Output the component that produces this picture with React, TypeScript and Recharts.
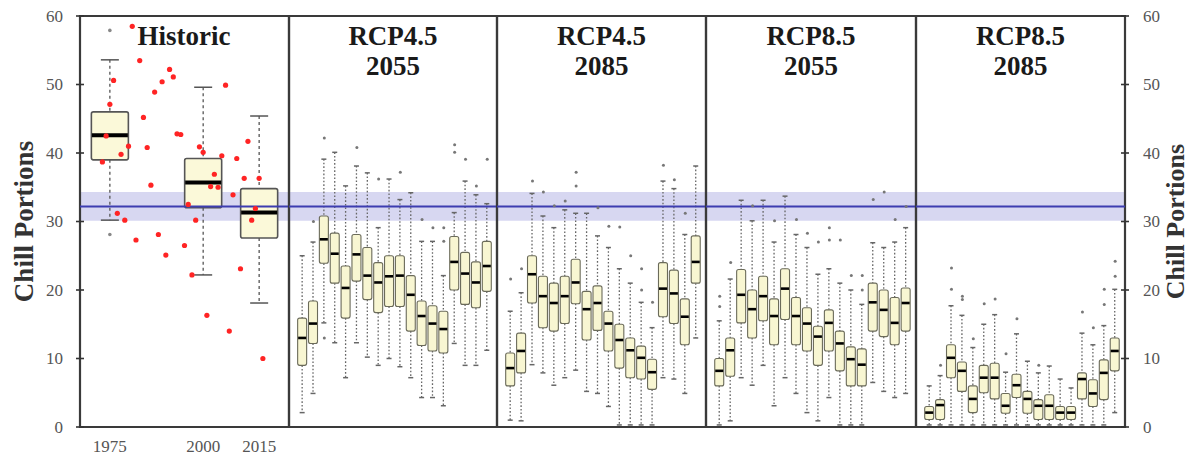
import React from 'react';
import { ComposedChart, Bar, Scatter, XAxis, YAxis, ReferenceArea, ReferenceLine } from 'recharts';

// ---------- Data ----------
const yTicks = [0, 10, 20, 30, 40, 50, 60];
const histTickYears = [1975, 2000, 2015];

// Historic box plots
const histYears = [1975, 2000, 2015];
const histLo = [30.2, 22.2, 18.1];
const histQ1 = [39.0, 32.0, 27.6];
const histMed = [42.6, 35.7, 31.3];
const histQ3 = [46.0, 39.2, 34.8];
const histHi = [53.6, 49.6, 45.4];
const histOutYears = [1975, 1975];
const histOutValues = [57.9, 28.1];

// Observed yearly chill portions (red dots)
const obsYears = [1973, 1974, 1975, 1976, 1977, 1978, 1979, 1980, 1981, 1982, 1983, 1984, 1985, 1986, 1987, 1988, 1989, 1990, 1991, 1992, 1993, 1994, 1995, 1996, 1997, 1998, 1999, 2000, 2001, 2002, 2003, 2004, 2005, 2006, 2007, 2008, 2009, 2010, 2011, 2012, 2013, 2014, 2015, 2016];
const obsValues = [38.7, 42.5, 47.1, 50.6, 31.2, 39.8, 30.2, 41.0, 58.5, 27.3, 53.5, 45.2, 40.8, 35.3, 48.9, 28.1, 50.4, 25.1, 52.2, 51.1, 42.8, 42.7, 26.5, 32.5, 22.2, 30.2, 40.9, 40.1, 16.3, 35.1, 36.9, 35.0, 39.6, 49.9, 14.0, 33.9, 39.2, 23.1, 36.3, 41.7, 30.2, 31.9, 36.3, 10.0];

// Reference band (historic safe-winter chill)
const bandLow = 30.1;
const bandHigh = 34.3;
const bandMid = 32.2;

// Climate model index (18 GCMs)
const gcmIndex = [1, 2, 3, 4, 5, 6, 7, 8, 9, 10, 11, 12, 13, 14, 15, 16, 17, 18];

// RCP4.5 2055
const r45a_lo = [2.1, 4.9, 15.2, 12.3, 7.2, 12.3, 10.2, 9.0, 10.0, 8.8, 7.2, 4.3, 4.3, 3.1, 12.2, 9.0, 9.0, 11.2];
const r45a_q1 = [9.0, 12.2, 23.9, 21.0, 15.9, 21.3, 18.6, 16.7, 17.6, 17.6, 14.0, 11.9, 11.1, 10.8, 20.0, 17.9, 17.4, 19.8];
const r45a_med = [13.0, 15.1, 27.4, 25.3, 20.3, 25.2, 22.1, 21.1, 22.0, 22.1, 19.3, 16.2, 15.1, 14.3, 24.1, 22.4, 21.1, 23.5];
const r45a_q3 = [15.9, 18.4, 30.8, 28.3, 23.5, 28.1, 26.2, 24.0, 25.0, 25.0, 22.1, 18.4, 17.7, 16.9, 27.8, 25.5, 24.1, 27.1];
const r45a_hi = [25.0, 27.0, 39.1, 40.1, 35.2, 38.1, 37.1, 29.1, 36.2, 33.2, 34.2, 27.1, 27.1, 22.1, 31.3, 35.9, 33.9, 32.6];
const r45a_outIdx = [2, 3, 3, 6, 8, 10, 12, 13, 14, 14, 15, 15, 16, 17, 18];
const r45a_outVal = [30.0, 42.2, 13.0, 40.8, 36.2, 37.2, 30.3, 29.1, 29.1, 27.1, 41.2, 40.1, 39.1, 35.2, 39.1];

// RCP4.5 2085
const r45b_lo = [1.0, 0.9, 9.1, 7.9, 6.1, 7.2, 8.3, 5.2, 4.9, 3.0, 0.3, 0.3, 0.3, 0.3, 7.2, 7.0, 4.9, 13.0];
const r45b_q1 = [6.0, 7.9, 18.1, 14.5, 14.0, 15.1, 18.0, 12.7, 14.1, 11.1, 8.6, 7.2, 7.0, 5.5, 16.1, 15.1, 12.0, 21.0];
const r45b_med = [8.6, 11.1, 22.3, 19.1, 18.1, 19.1, 21.1, 17.2, 18.1, 15.1, 12.7, 11.2, 10.1, 8.0, 20.2, 19.5, 16.1, 24.1];
const r45b_q3 = [10.8, 13.7, 25.0, 22.0, 21.0, 22.0, 24.5, 19.8, 20.6, 16.9, 15.0, 13.0, 11.8, 9.9, 24.0, 22.9, 18.7, 27.9];
const r45b_hi = [16.9, 19.6, 34.1, 30.8, 29.1, 31.7, 31.2, 31.2, 27.9, 26.2, 23.1, 21.0, 18.2, 14.5, 35.9, 34.8, 28.1, 38.1];
const r45b_outIdx = [1, 2, 3, 4, 5, 6, 7, 7, 9, 10, 11, 12, 13, 13, 14, 15, 16, 17];
const r45b_outVal = [21.6, 23.1, 35.9, 34.3, 32.3, 33.0, 37.2, 35.2, 32.0, 29.3, 29.2, 25.0, 23.1, 20.0, 18.2, 38.2, 36.1, 31.2];

// RCP8.5 2055
const r85a_lo = [0.3, 0.9, 7.2, 6.1, 9.0, 3.1, 7.2, 4.9, 2.1, 0.9, 4.3, 0.3, 0.3, 0.3, 6.5, 5.2, 4.3, 4.9];
const r85a_q1 = [6.0, 7.4, 15.2, 13.0, 15.5, 12.0, 15.7, 12.0, 11.1, 9.0, 11.1, 8.2, 6.0, 6.0, 14.0, 13.2, 12.0, 14.0];
const r85a_med = [8.2, 11.2, 19.3, 17.2, 19.1, 16.2, 20.2, 16.2, 15.1, 13.2, 15.2, 12.2, 9.9, 9.1, 18.2, 17.1, 15.2, 18.1];
const r85a_q3 = [10.0, 13.0, 23.0, 20.0, 22.0, 18.7, 23.1, 18.9, 17.4, 14.7, 17.1, 14.0, 11.7, 11.4, 21.0, 20.0, 18.9, 20.3];
const r85a_hi = [15.5, 21.6, 33.1, 30.1, 33.1, 27.0, 33.7, 28.1, 26.2, 22.3, 23.1, 21.0, 20.0, 17.9, 26.9, 26.2, 27.0, 29.1];
const r85a_outIdx = [1, 1, 2, 4, 6, 8, 9, 10, 11, 11, 12, 13, 14, 14, 15, 16, 17, 18];
const r85a_outVal = [19.1, 17.6, 24.0, 32.3, 30.1, 30.3, 28.3, 27.0, 29.1, 27.3, 27.3, 22.1, 22.1, 20.0, 33.2, 34.3, 30.3, 32.2];

// RCP8.5 2085
const r85b_lo = [0.3, 0.3, 0.3, 0.3, 0.3, 0.3, 0.3, 0.3, 0.3, 0.3, 0.3, 0.3, 0.3, 0.3, 0.3, 0.3, 0.3, 2.1];
const r85b_q1 = [1.1, 1.1, 7.2, 5.2, 2.1, 5.0, 4.1, 2.0, 4.3, 2.0, 1.1, 1.1, 1.1, 1.1, 4.1, 3.0, 4.0, 8.2];
const r85b_med = [2.1, 3.2, 10.1, 8.2, 4.1, 7.2, 7.2, 3.1, 6.1, 4.1, 3.1, 3.1, 2.1, 2.1, 7.0, 4.9, 7.9, 11.1];
const r85b_q3 = [3.0, 4.0, 12.0, 9.5, 6.0, 9.0, 9.3, 4.9, 7.7, 5.2, 4.0, 4.7, 3.0, 3.0, 7.9, 6.9, 9.8, 13.0];
const r85b_hi = [6.0, 7.5, 17.7, 16.3, 11.6, 15.0, 16.4, 8.0, 13.6, 9.6, 7.9, 8.9, 7.0, 5.7, 13.7, 12.0, 14.8, 20.1];
const r85b_outIdx = [2, 3, 3, 4, 4, 5, 6, 7, 8, 9, 11, 15, 16, 17, 17, 18, 18];
const r85b_outVal = [9.0, 23.2, 20.1, 19.1, 18.6, 12.9, 18.0, 18.7, 10.7, 15.8, 9.0, 16.8, 14.5, 20.1, 17.9, 24.2, 22.0];

// ---------- Helpers ----------
const FONT = "'Liberation Serif', 'Times New Roman', serif";
const TOP = 16;
const PLOT_BOTTOM = 427;
const H = 457;

type Row = { x: number; lo: number; q1: number; med: number; q3: number; hi: number };

const buildRows = (xs: number[], lo: number[], q1: number[], med: number[], q3: number[], hi: number[]): Row[] =>
  xs.map((x, i) => ({ x, lo: lo[i], q1: q1[i], med: med[i], q3: q3[i], hi: hi[i] }));

const buildPoints = (xs: number[], ys: number[]) => xs.map((x, i) => ({ x, y: ys[i] }));

const rangeKey = (d: Row) => [d.lo, d.hi];

const makeBoxShape = (o: { capW: number; medW: number; boxStroke: string; fill: string; dash: string; whiskerColor: string; boxStrokeW: number; rx: number }) =>
  (props: any) => {
    const { x, y, width, height, payload } = props;
    if (payload == null || x == null || y == null) return <g />;
    const { lo, q1, med, q3, hi } = payload as Row;
    const span = hi - lo;
    const py = (v: number) => y + (height * (hi - v)) / span;
    const cx = x + width / 2;
    const yHi = py(hi), yQ3 = py(q3), yMed = py(med), yQ1 = py(q1), yLo = py(lo);
    return (
      <g>
        <line x1={cx} x2={cx} y1={yHi} y2={yQ3} stroke={o.whiskerColor} strokeWidth={1.3} strokeDasharray={o.dash} />
        <line x1={cx} x2={cx} y1={yQ1} y2={yLo} stroke={o.whiskerColor} strokeWidth={1.3} strokeDasharray={o.dash} />
        <line x1={cx - o.capW / 2} x2={cx + o.capW / 2} y1={yHi} y2={yHi} stroke={o.whiskerColor} strokeWidth={1.5} />
        <line x1={cx - o.capW / 2} x2={cx + o.capW / 2} y1={yLo} y2={yLo} stroke={o.whiskerColor} strokeWidth={1.5} />
        <rect x={x + 0.5} y={yQ3} width={width - 1} height={yQ1 - yQ3} fill={o.fill} stroke={o.boxStroke} strokeWidth={o.boxStrokeW} rx={o.rx} />
        <line x1={x + 1} x2={x + width - 1} y1={yMed} y2={yMed} stroke="#000" strokeWidth={o.medW} />
      </g>
    );
  };

const projBoxShape = makeBoxShape({ capW: 5, medW: 2.6, boxStroke: '#6b6b5a', fill: '#f8f6d2', dash: '1.6 2', whiskerColor: '#666', boxStrokeW: 1.1, rx: 2 });
const histBoxShape = makeBoxShape({ capW: 18, medW: 4, boxStroke: '#555', fill: '#fbf9d9', dash: '3 3', whiskerColor: '#555', boxStrokeW: 1.6, rx: 2 });

const grayDot = (props: any) => <circle cx={props.cx} cy={props.cy} r={1.5} fill="#777" />;
const histGrayDot = (props: any) => <circle cx={props.cx} cy={props.cy} r={1.8} fill="#888" />;
const redDot = (props: any) => <circle cx={props.cx} cy={props.cy} r={2.6} fill="#ff2424" />;

// crossing tick mark only
const crossTick = (props: any) => (
  <line x1={props.x - 4} x2={props.x + 4} y1={props.y} y2={props.y} stroke="#333" strokeWidth={1.6} />
);
// crossing tick + label on the left
const leftLabelTick = (props: any) => (
  <g>
    <line x1={props.x - 4} x2={props.x + 4} y1={props.y} y2={props.y} stroke="#333" strokeWidth={1.6} />
    <text x={props.x - 17} y={props.y} textAnchor="end" dominantBaseline="central" fontFamily={FONT} fontSize={17} fill="#555">
      {props.payload.value}
    </text>
  </g>
);
// crossing tick + label on the right
const rightLabelTick = (props: any) => (
  <g>
    <line x1={props.x - 4} x2={props.x + 4} y1={props.y} y2={props.y} stroke="#333" strokeWidth={1.6} />
    <text x={props.x + 18} y={props.y} textAnchor="start" dominantBaseline="central" fontFamily={FONT} fontSize={17} fill="#555">
      {props.payload.value}
    </text>
  </g>
);

const leftTitle = (props: any) => {
  const vb = props.viewBox || {};
  const cx = (vb.x ?? 0) + 24;
  const cy = (vb.y ?? TOP) + (vb.height ?? 0) / 2;
  return (
    <text x={cx} y={cy} transform={`rotate(-90, ${cx}, ${cy})`} textAnchor="middle" dominantBaseline="central" fontFamily={FONT} fontWeight="bold" fontSize={27} fill="#333">
      Chill Portions
    </text>
  );
};

const rightTitle = (props: any) => {
  const vb = props.viewBox || {};
  const cx = (vb.x ?? 0) + 50;
  const cy = (vb.y ?? TOP) + (vb.height ?? 0) / 2;
  return (
    <text x={cx} y={cy} transform={`rotate(-90, ${cx}, ${cy})`} textAnchor="middle" dominantBaseline="central" fontFamily={FONT} fontWeight="bold" fontSize={26} fill="#333">
      Chill Portions
    </text>
  );
};

const tickStyle = { fill: '#555', fontSize: 17, fontFamily: FONT };

const bandElements = (yAxisId: any) => [
  <ReferenceArea key="band" yAxisId={yAxisId} y1={bandLow} y2={bandHigh} fill="#7b7bd0" fillOpacity={0.3} stroke="none" ifOverflow="hidden" />,
  <ReferenceLine key="mid" yAxisId={yAxisId} y={bandMid} stroke="#3d3db0" strokeWidth={2} />,
];

type PanelSpec = {
  title: string[];
  left: number;
  right: number;
  lo: number[]; q1: number[]; med: number[]; q3: number[]; hi: number[];
  outIdx: number[]; outVal: number[];
  last?: boolean;
};

const panels: PanelSpec[] = [
  { title: ['RCP4.5', '2055'], left: 289, right: 497, lo: r45a_lo, q1: r45a_q1, med: r45a_med, q3: r45a_q3, hi: r45a_hi, outIdx: r45a_outIdx, outVal: r45a_outVal },
  { title: ['RCP4.5', '2085'], left: 497, right: 706, lo: r45b_lo, q1: r45b_q1, med: r45b_med, q3: r45b_q3, hi: r45b_hi, outIdx: r45b_outIdx, outVal: r45b_outVal },
  { title: ['RCP8.5', '2055'], left: 706, right: 916, lo: r85a_lo, q1: r85a_q1, med: r85a_med, q3: r85a_q3, hi: r85a_hi, outIdx: r85a_outIdx, outVal: r85a_outVal },
  { title: ['RCP8.5', '2085'], left: 916, right: 1125, lo: r85b_lo, q1: r85b_q1, med: r85b_med, q3: r85b_q3, hi: r85b_hi, outIdx: r85b_outIdx, outVal: r85b_outVal, last: true },
];

const ProjectionPanel = ({ p }: { p: PanelSpec }) => {
  const rows = buildRows(gcmIndex, p.lo, p.q1, p.med, p.q3, p.hi);
  const outs = buildPoints(p.outIdx, p.outVal);
  const pw = p.right - p.left;
  const rightW = p.last ? 63 : 0;
  const width = pw + 10 + (p.last ? rightW : 10);
  return (
    <div style={{ position: 'absolute', left: p.left - 10, top: 0, width, height: H }}>
      <ComposedChart width={width} height={H} data={rows} margin={{ top: TOP, right: p.last ? 0 : 10, bottom: H - PLOT_BOTTOM, left: 10 }}>
        <XAxis dataKey="x" type="number" domain={[-0.25, 18.9]} hide allowDataOverflow />
        <XAxis xAxisId="s" dataKey="x" type="number" domain={[-0.25, 18.9]} hide allowDataOverflow />
        <YAxis yAxisId={0} type="number" domain={[0, 60]} ticks={yTicks} interval={0} width={0} axisLine={false} tick={crossTick} tickSize={0} tickMargin={0} tickLine={false} allowDataOverflow />
        {p.last && (
          <YAxis yAxisId="r" orientation="right" type="number" domain={[0, 60]} ticks={yTicks} interval={0} width={rightW} axisLine={false} tick={rightLabelTick} tickSize={0} tickMargin={0} tickLine={false} label={{ content: rightTitle }} allowDataOverflow />
        )}
        <Bar dataKey={rangeKey} barSize={10} shape={projBoxShape} isAnimationActive={false} />
        <Scatter xAxisId="s" yAxisId={p.last ? 'r' : 0} data={outs} dataKey="y" shape={grayDot} isAnimationActive={false} />
        {bandElements(0)}
        <ReferenceArea y1={0} y2={60} fill="none" stroke="#3a3a3a" strokeWidth={2.2} ifOverflow="visible" />
      </ComposedChart>
    </div>
  );
};

const HistoricPanel = () => {
  const rows = buildRows(histYears, histLo, histQ1, histMed, histQ3, histHi);
  const outs = buildPoints(histOutYears, histOutValues);
  const obs = buildPoints(obsYears, obsValues);
  const width = 299;
  return (
    <div style={{ position: 'absolute', left: 0, top: 0, width, height: H }}>
      <ComposedChart width={width} height={H} data={rows} margin={{ top: TOP, right: 10, bottom: 0, left: 0 }}>
        <XAxis dataKey="x" type="number" domain={[1967, 2023]} ticks={histTickYears} interval={0} height={H - PLOT_BOTTOM} axisLine={false} tickLine={false} tickSize={0} tickMargin={13} tick={tickStyle} allowDataOverflow />
        <XAxis xAxisId="s" dataKey="x" type="number" domain={[1967, 2023]} hide allowDataOverflow />
        <YAxis yAxisId={0} type="number" domain={[0, 60]} ticks={yTicks} interval={0} width={80} axisLine={false} tick={leftLabelTick} tickSize={0} tickMargin={0} tickLine={false} label={{ content: leftTitle }} allowDataOverflow />
        <Bar dataKey={rangeKey} barSize={38} shape={histBoxShape} isAnimationActive={false} />
        <Scatter xAxisId="s" data={outs} dataKey="y" shape={histGrayDot} isAnimationActive={false} />
        <Scatter xAxisId="s" data={obs} dataKey="y" shape={redDot} isAnimationActive={false} />
        {bandElements(0)}
        <ReferenceArea y1={0} y2={60} fill="none" stroke="#3a3a3a" strokeWidth={2.2} ifOverflow="visible" />
      </ComposedChart>
    </div>
  );
};

const Title = ({ lines, center }: { lines: string[]; center: number }) => (
  <div style={{ position: 'absolute', left: center - 100, top: 21, width: 200, textAlign: 'center', fontFamily: FONT, fontWeight: 'bold', fontSize: 27, lineHeight: '30px', color: '#1a1a1a', pointerEvents: 'none' }}>
    {lines.map((l) => (
      <div key={l}>{l}</div>
    ))}
  </div>
);

export default function App() {
  return (
    <div style={{ position: 'absolute', left: 0, top: 0, width: 1188, height: H, background: '#fff', overflow: 'hidden', fontFamily: FONT }}>
      <HistoricPanel />
      {panels.map((p) => (
        <ProjectionPanel key={p.left} p={p} />
      ))}
      <Title lines={['Historic']} center={184} />
      {panels.map((p) => (
        <Title key={'t' + p.left} lines={p.title} center={(p.left + p.right) / 2} />
      ))}
    </div>
  );
}
